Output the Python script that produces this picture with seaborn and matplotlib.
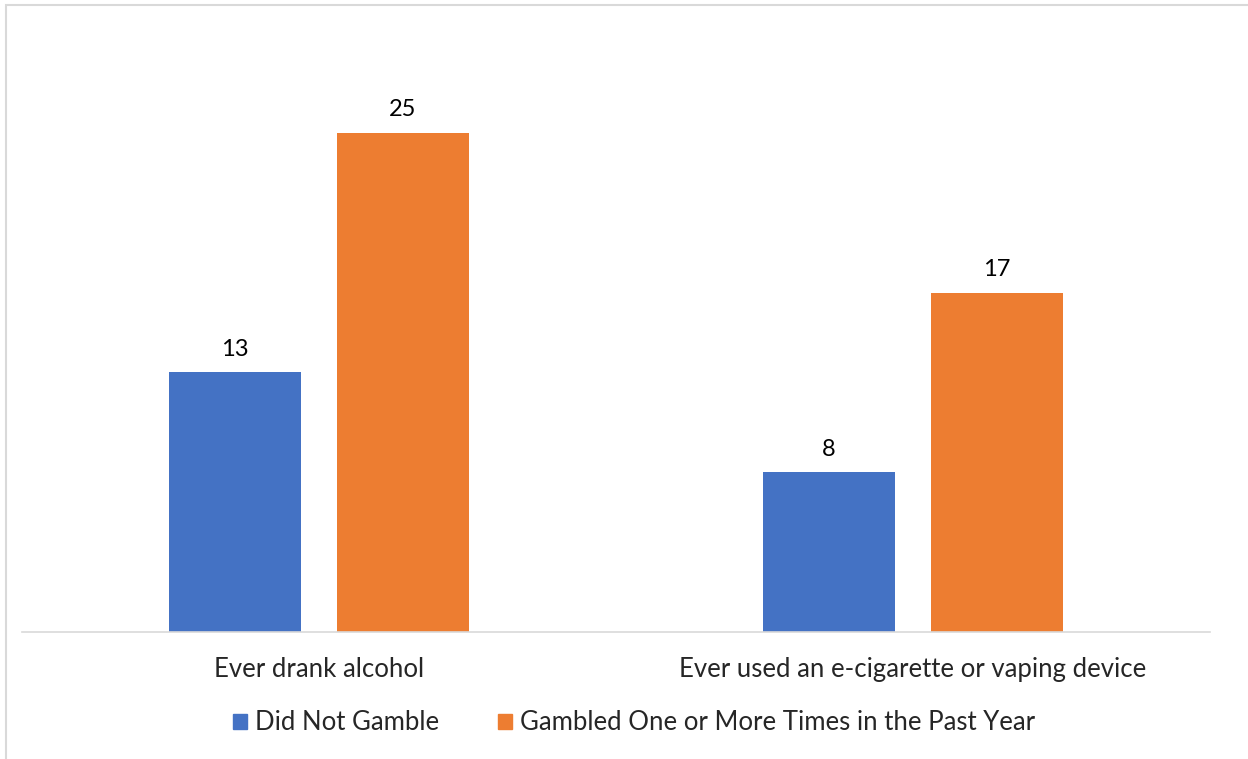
import pandas as pd
import matplotlib.pyplot as plt
import seaborn as sns
from matplotlib.patches import Rectangle

# Data
categories = ['Ever drank alcohol', 'Ever used an e-cigarette or vaping device']
groups = ['Did Not Gamble', 'Gambled One or More Times in the Past Year']
did_not_gamble = [13, 8]
gambled = [25, 17]
colors = ['#4472C4', '#ED7D31']

df = pd.DataFrame({
    'category': categories * 2,
    'group': [groups[0]] * 2 + [groups[1]] * 2,
    'value': did_not_gamble + gambled,
})

sns.set_style('white')
plt.rcParams['font.family'] = ['Lato', 'DejaVu Sans']

fig = plt.figure(figsize=(12.48, 7.59), dpi=100)
ax = fig.add_axes([22 / 1248, 127 / 759, 1188 / 1248, 599 / 759])

sns.barplot(data=df, x='category', y='value', hue='group', palette=colors,
            saturation=1, width=0.566, gap=0.215, ax=ax, legend=False,
            linewidth=0)

for c in ax.containers:
    ax.bar_label(c, fontsize=17, padding=9, color='black')

ax.set_ylim(0, 30)
ax.set_xlim(-0.5, 1.5)
ax.set_xlabel('')
ax.set_ylabel('')
ax.set_yticks([])
ax.tick_params(axis='x', length=0, labelsize=18.5, pad=18)
for s in ['top', 'right', 'left']:
    ax.spines[s].set_visible(False)
ax.spines['bottom'].set_color('#d9d9d9')
ax.spines['bottom'].set_linewidth(1.2)

# Legend with square markers
handles = [Rectangle((0, 0), 1, 1, color=col) for col in colors]
fig.legend(handles, groups, loc='center', bbox_to_anchor=(634 / 1248, 1 - 723 / 759),
           ncol=2, frameon=False, fontsize=18.5, handlelength=0.55, handleheight=0.55,
           handletextpad=0.3, columnspacing=2.3)

# Chart border
fig.add_artist(Rectangle((6 / 1248, -0.1), 1.2, 1 - 5 / 759 + 0.1,
                         transform=fig.transFigure, fill=False,
                         edgecolor='#d9d9d9', linewidth=1.5))

fig.savefig('out.png', dpi=100)
